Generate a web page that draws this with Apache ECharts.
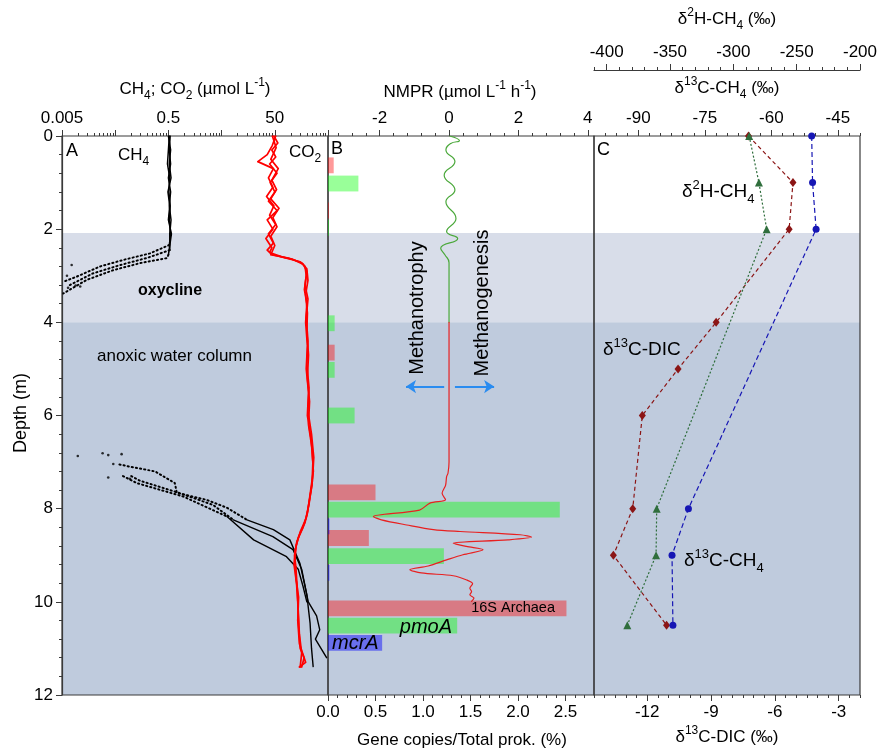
<!DOCTYPE html>
<html><head><meta charset="utf-8">
<script src="https://cdn.jsdelivr.net/npm/echarts@6/dist/echarts.min.js"></script>
<style>html,body{margin:0;padding:0;background:#fff}#c{width:878px;height:750px}</style>
</head><body><div id="c"></div>
<script>
// ---------------- DATA ----------------
// depth zones (m)
const oxyclineTop = 2.08, anoxicTop = 4.0, maxDepth = 12;

// Panel A tick values (µmol L-1)
const concMajorTicks = [0.005, 0.05, 0.5, 5, 50, 500];
const concLabels = [0.005, 0.5, 50];

// CH4 casts [depth, µmol/L]
const ch4SurfA = [[0,0.52],[0.3,0.50],[0.6,0.48],[0.9,0.53],[1.2,0.51],[1.5,0.54],[1.8,0.52],[2.1,0.55],[2.34,0.52]];
const ch4SurfB = [[0,0.54],[0.3,0.52],[0.6,0.55],[0.9,0.50],[1.2,0.55],[1.5,0.52],[1.8,0.56],[2.1,0.53],[2.45,0.53]];
const ch4SurfC = [[0,0.50],[0.3,0.55],[0.6,0.52],[0.9,0.56],[1.2,0.49],[1.5,0.53],[1.8,0.50],[2.1,0.57],[2.55,0.50]];
const ch4OxyA = [[2.34,0.52],[2.52,0.225],[2.66,0.071],[2.8,0.026],[3.02,0.0094],[3.13,0.0053]];
const ch4OxyB = [[2.45,0.53],[2.62,0.195],[2.77,0.062],[2.95,0.019],[3.2,0.007]];
const ch4OxyC = [[2.55,0.50],[2.62,0.47],[2.73,0.146],[2.88,0.046],[3.09,0.0145],[3.38,0.0053]];
const ch4OxyPts = [[2.77,0.0076],[3.23,0.011],[3.21,0.009],[3.26,0.0065],[3.0,0.0062]];
const ch4DeepA = [[7.05,0.06],[7.1,0.095],[7.2,0.28],[7.45,0.66],[7.66,0.72],[7.81,2.6],[7.98,6.3],[8.24,15],[8.45,47],[8.67,96],[9.17,148],[9.67,185],[10.0,213],[10.3,305],[10.6,350],[10.8,290],[11.2,470]];
const ch4DeepB = [[7.3,0.1],[7.4,0.146],[7.67,0.83],[7.92,3.45],[8.24,8.3],[8.6,46],[8.88,110],[9.3,160],[9.85,200],[10.45,230],[11.0,245],[11.39,263]];
const ch4DeepC = [[7.3,0.07],[7.45,0.127],[7.74,0.95],[8.17,6.3],[8.67,20],[9.03,83],[9.3,138],[9.67,170],[10.0,200]];
const ch4DeepPts = [[6.87,0.0099],[6.81,0.029],[6.85,0.037],[6.83,0.066],[7.04,0.046],[7.33,0.037],[7.36,0.095]];

// CO2 casts [depth, µmol/L]
const co2A = [[0,48],[0.15,57],[0.3,44],[0.45,52],[0.6,40],[0.8,55],[1.0,41],[1.2,50],[1.4,38],[1.6,55],[1.8,36],[2.0,46],[2.2,34],[2.4,44],[2.5,40],[2.6,70],[2.7,150],[2.8,185],[3.0,195],[3.3,180],[3.6,200],[4.0,190],[4.5,205],[5.0,195],[5.5,215],[6.0,205],[6.5,240],[7.0,260],[7.5,250],[8.0,210],[8.3,185],[8.6,140],[8.9,120],[9.2,115],[9.6,128],[10.0,135],[10.5,140],[11.0,150],[11.2,178],[11.4,160]];
const co2B = [[0,52],[0.2,45],[0.4,36],[0.55,24],[0.7,47],[0.9,38],[1.1,46],[1.3,35],[1.5,48],[1.7,40],[1.9,52],[2.1,38],[2.3,47],[2.45,36],[2.55,45],[2.65,110],[2.75,170],[2.9,200],[3.2,185],[3.5,210],[3.9,195],[4.4,210],[4.9,200],[5.4,220],[5.9,210],[6.4,245],[6.9,270],[7.4,255],[7.9,220],[8.2,195],[8.5,150],[8.8,125],[9.1,120],[9.5,125],[9.9,140],[10.4,135],[10.9,145],[11.3,190],[11.4,145]];
const co2C = [[0,45],[0.25,53],[0.5,42],[0.7,58],[0.95,44],[1.15,54],[1.35,42],[1.55,60],[1.75,46],[1.95,55],[2.15,42],[2.35,50],[2.55,42],[2.62,90],[2.72,160],[2.85,200],[3.1,210],[3.4,190],[3.8,205],[4.2,200],[4.7,215],[5.2,205],[5.7,225],[6.2,215],[6.7,250],[7.2,265],[7.7,230],[8.1,205],[8.4,170],[8.7,130],[9.0,118],[9.3,125],[9.7,132],[10.2,138],[10.7,145],[11.1,160],[11.4,150]];

// Panel B
const nmprTicks = [-2, 0, 2, 4];
const geneTicks = [0, 0.5, 1, 1.5, 2, 2.5];
// NMPR [depth, µmol L-1 h-1]
const nmprOxic = [[0.0,0.02],[0.1,0.3],[0.16,0.05],[0.3,-0.09],[0.55,0.17],[0.84,-0.14],[1.16,0.17],[1.41,-0.09],[1.77,0.2],[2.05,-0.07],[2.2,0.25],[2.41,-0.24],[2.55,-0.12],[2.72,0],[4.0,0]];
const nmprAnoxic = [[4.0,0],[7.0,0],[7.24,-0.03],[7.31,-0.07],[7.5,-0.1],[7.67,-0.2],[7.81,-0.1],[7.88,-0.55],[8.03,-0.85],[8.17,-2.18],[8.24,-1.95],[8.35,-1.22],[8.45,-0.45],[8.49,0.32],[8.56,2.05],[8.61,2.38],[8.67,1.7],[8.74,0.12],[8.81,0.5],[8.88,0.98],[8.99,0.4],[9.1,-0.07],[9.23,-0.6],[9.31,-1.13],[9.38,-0.8],[9.44,0.12],[9.53,0.51],[9.61,0.68],[9.71,0.6],[9.78,0.65],[9.85,0.6],[9.92,0.72],[9.99,0.65]];
// gene copies / total prokaryotes (%)
const archaeaDepth = [0.63, 1.60, 4.65, 7.65, 8.63, 10.14];
const archaeaPct   = [0.06, 0.01, 0.07, 0.50, 0.43, 2.51];
const pmoADepth = [1.02, 1.97, 4.02, 5.02, 6.0, 8.02, 9.02, 10.51];
const pmoAPct   = [0.32, 0.005, 0.07, 0.07, 0.28, 2.44, 1.22, 1.36];
const mcrADepth = [8.38, 9.38, 10.88];
const mcrAPct   = [0.015, 0.015, 0.57];
// arrows (NMPR units, depth)
const arrowLeft = [[-0.14, 5.38], [-1.24, 5.38]];
const arrowRight = [[0.17, 5.38], [1.30, 5.38]];

// Panel C
const dicTicks = [-12, -9, -6, -3];
const c13Ticks = [-90, -75, -60, -45];
const d2hTicks = [-400, -350, -300, -250, -200];
const dicDepth = [0, 1, 2, 4, 5, 6, 8, 9, 10.5];
const dicVal   = [-7.24, -5.15, -5.33, -8.76, -10.55, -12.23, -12.68, -13.59, -11.09];
const ch4IsoDepth = [0, 1, 2, 8, 9, 10.5];
const d2hVal = [-287.5, -279.8, -273.7, -360.5, -361.0, -383.7];
const c13Val = [-50.9, -50.7, -49.9, -78.7, -82.4, -82.2];

// ---------------- STYLE / HELPERS ----------------
const FONT = '"Liberation Sans", Arial, Helvetica, sans-serif';
const AX = '#3a3a3a';
const BAND_COLORS = ['#d8dde9', '#bfcbdd'];
const BAR_H = 0.34;
const r6 = v => +Number(v).toPrecision(6);
const fmtNum = v => String(parseFloat(Number(v).toPrecision(4)));

function range(a, b, step, exclude) {
  const out = [];
  const n = Math.round((b - a) / step);
  for (let i = 0; i <= n; i++) {
    const v = r6(a + i * step);
    if (!exclude || !exclude.some(e => Math.abs(e - v) < 1e-9)) out.push(v);
  }
  return out;
}
const concMinor = [];
[0.005, 0.05, 0.5, 5, 50].forEach(d => { for (let k = 2; k <= 9; k++) concMinor.push(r6(d * k)); });
const nmprMinor = range(-3.2, 4.0, 0.4, nmprTicks);
const geneMinor = range(0.1, 2.7, 0.1, geneTicks);
const c13Minor = range(-97.5, -40, 2.5, c13Ticks);
const d2hMinor = range(-410, -200, 10, d2hTicks);
const dicMinor = range(-14.5, -2, 0.5, dicTicks);

function xAx(grid, type, min, max, pos, ticks, labels, tickLen, offset, fmt, showLine) {
  return {
    gridIndex: grid, type: type, min: min, max: max, position: pos, offset: offset || 0,
    axisLine: {show: !!showLine, onZero: false, lineStyle: {color: AX, width: 1.2}},
    axisTick: {show: true, inside: false, length: tickLen, customValues: ticks, lineStyle: {color: AX, width: 1}},
    axisLabel: labels ? {show: true, customValues: labels, formatter: fmt, fontSize: 17, color: '#000', fontFamily: FONT, margin: 9} : {show: false},
    splitLine: {show: false}, minorTick: {show: false}, minorSplitLine: {show: false}
  };
}
const flip = arr => arr.map(p => [p[1], p[0]]);

function lineS(data, xi, yi, color, width, type, extra) {
  return Object.assign({
    type: 'line', xAxisIndex: xi, yAxisIndex: yi, data: flip(data),
    showSymbol: false, symbol: 'none', silent: true, animation: false, z: 3,
    lineStyle: {color: color, width: width, type: type || 'solid', cap: 'round', join: 'round'}
  }, extra || {});
}
function ptsS(data, xi, yi) {
  return {type: 'scatter', xAxisIndex: xi, yAxisIndex: yi, data: flip(data), symbol: 'circle', symbolSize: 2.6,
    itemStyle: {color: '#000'}, silent: true, animation: false, z: 3};
}
function bgS(xi, yi, xref) {
  const bands = [[oxyclineTop, anoxicTop], [anoxicTop, maxDepth]];
  return {
    type: 'custom', xAxisIndex: xi, yAxisIndex: yi, z: -5, silent: true, animation: false,
    data: bands.map(b => [xref, b[0], b[1]]),
    renderItem: function (params, api) {
      const cs = params.coordSys;
      const y0 = api.coord([xref, api.value(1)])[1];
      const y1 = api.coord([xref, api.value(2)])[1];
      return {type: 'rect', shape: {x: cs.x, y: y0, width: cs.width, height: y1 - y0},
        style: {fill: BAND_COLORS[params.dataIndex]}};
    }
  };
}
function barS(depths, vals, color) {
  return {
    type: 'custom', xAxisIndex: 4, yAxisIndex: 1, z: 3, silent: true, animation: false,
    data: depths.map((d, i) => [vals[i], d]),
    renderItem: function (params, api) {
      const p0 = api.coord([0, api.value(1) - BAR_H / 2]);
      const p1 = api.coord([api.value(0), api.value(1) + BAR_H / 2]);
      return {type: 'rect', shape: {x: p0[0], y: p0[1], width: Math.max(p1[0] - p0[0], 1), height: p1[1] - p0[1]},
        style: {fill: color}};
    }
  };
}
function isoS(depths, vals, xi, color, symbol, size, dash) {
  return {
    type: 'line', xAxisIndex: xi, yAxisIndex: 2, data: depths.map((d, i) => [vals[i], d]),
    symbol: symbol, symbolSize: size, showSymbol: true, silent: true, animation: false, z: 4,
    itemStyle: {color: color}, lineStyle: {color: color, width: 1.2, type: dash}
  };
}
function richStyle(fs) {
  const s = Math.round(fs * 0.68);
  return {
    b: {fontSize: s, fontFamily: FONT, fill: '#000', verticalAlign: 'bottom', lineHeight: s},
    p: {fontSize: s, fontFamily: FONT, fill: '#000', verticalAlign: 'top', lineHeight: s}
  };
}
function txt(x, y, text, fs, opt) {
  opt = opt || {};
  return {
    type: 'text', x: x, y: y, rotation: opt.rot || 0, z: 100, silent: true,
    style: {
      text: text, fontSize: fs, fontFamily: FONT, fill: '#000',
      fontWeight: opt.bold ? 'bold' : 'normal', fontStyle: opt.italic ? 'italic' : 'normal',
      align: opt.align || 'left', verticalAlign: 'middle', lineHeight: fs + 8, rich: richStyle(fs)
    }
  };
}

// ---------------- CHART ----------------
const chart = echarts.init(document.getElementById('c'), null, {renderer: 'canvas'});
const gridBase = {top: 136, height: 559, width: 266, show: true, borderColor: AX, borderWidth: 1.2,
  backgroundColor: 'transparent', containLabel: false, outerBoundsMode: 'none'};

const DEEP_SPLIT = 8.25;
const series = [
  bgS(0, 0, 1), bgS(2, 1, 0), bgS(6, 2, -70),
  // CH4 profiles
  lineS(ch4SurfA, 0, 0, '#000', 1.5), lineS(ch4SurfB, 0, 0, '#000', 1.5), lineS(ch4SurfC, 0, 0, '#000', 1.5),
  lineS(ch4OxyA, 0, 0, '#000', 2, [1.2, 3]), lineS(ch4OxyB, 0, 0, '#000', 2, [1.2, 3]), lineS(ch4OxyC, 0, 0, '#000', 2, [1.2, 3]),
  ptsS(ch4OxyPts, 0, 0), ptsS(ch4DeepPts, 0, 0),
  lineS(ch4DeepA.filter(p => p[0] <= DEEP_SPLIT), 0, 0, '#000', 2, [1.2, 3]),
  lineS(ch4DeepB.filter(p => p[0] <= DEEP_SPLIT), 0, 0, '#000', 2, [1.2, 3]),
  lineS(ch4DeepC.filter(p => p[0] <= DEEP_SPLIT), 0, 0, '#000', 2, [1.2, 3]),
  lineS(ch4DeepA.filter(p => p[0] >= 8.2), 0, 0, '#000', 1.4),
  lineS(ch4DeepB.filter(p => p[0] >= 8.2), 0, 0, '#000', 1.4),
  lineS(ch4DeepC.filter(p => p[0] >= 8.1), 0, 0, '#000', 1.4),
  // CO2 profiles
  lineS(co2A, 0, 0, '#ff0000', 1.7), lineS(co2B, 0, 0, '#ff0000', 1.7), lineS(co2C, 0, 0, '#ff0000', 1.7),
  // Panel B bars
  barS(archaeaDepth, archaeaPct, 'rgba(255,0,0,0.4)'),
  barS(pmoADepth, pmoAPct, 'rgba(0,255,0,0.4)'),
  barS(mcrADepth, mcrAPct, 'rgba(0,0,255,0.45)'),
  // NMPR
  lineS(nmprOxic, 2, 1, '#4aa83a', 1.2, 'solid', {smooth: 0.5, z: 5}),
  lineS(nmprAnoxic, 2, 1, '#e82020', 1.2, 'solid', {smooth: 0.3, z: 5}),
  {type: 'lines', coordinateSystem: 'cartesian2d', xAxisIndex: 2, yAxisIndex: 1, silent: true, animation: false, z: 5,
    symbol: ['none', 'arrow'], symbolSize: 10,
    lineStyle: {color: '#2a8cf0', width: 2, curveness: 0, opacity: 1},
    data: [{coords: arrowLeft}, {coords: arrowRight}]},
  // Panel C isotopes
  isoS(dicDepth, dicVal, 10, '#8b1515', 'diamond', [7, 9], [4, 3]),
  isoS(ch4IsoDepth, d2hVal, 8, '#2f6e3c', 'triangle', 8, [2, 2]),
  isoS(ch4IsoDepth, c13Val, 6, '#1616b4', 'circle', 7, [5, 3])
];

const option = {
  animation: false,
  backgroundColor: '#fff',
  textStyle: {fontFamily: FONT},
  grid: [
    Object.assign({}, gridBase, {left: 62}),
    Object.assign({}, gridBase, {left: 328}),
    Object.assign({}, gridBase, {left: 594})
  ],
  xAxis: [
    xAx(0, 'log', 0.004999, 500.001, 'top', concMajorTicks, concLabels, 6, 0, fmtNum),
    xAx(0, 'log', 0.004999, 500.001, 'top', concMinor, null, 3),
    xAx(1, 'value', -3.49, 4.18, 'top', nmprTicks, nmprTicks, 6, 0, fmtNum),
    xAx(1, 'value', -3.49, 4.18, 'top', nmprMinor, null, 3),
    xAx(1, 'value', 0, 2.8, 'bottom', geneTicks, geneTicks, 6, 0, v => Number(v).toFixed(1)),
    xAx(1, 'value', 0, 2.8, 'bottom', geneMinor, null, 3),
    xAx(2, 'value', -100, -40, 'top', c13Ticks, c13Ticks, 6, 0, fmtNum),
    xAx(2, 'value', -100, -40, 'top', c13Minor, null, 3),
    xAx(2, 'value', -410, -200, 'top', d2hTicks, d2hTicks, 6, 66, fmtNum, true),
    xAx(2, 'value', -410, -200, 'top', d2hMinor, null, 3, 66),
    xAx(2, 'value', -14.5, -2, 'bottom', dicTicks, dicTicks, 6, 0, fmtNum),
    xAx(2, 'value', -14.5, -2, 'bottom', dicMinor, null, 3)
  ],
  yAxis: [0, 1, 2].map(i => ({
    gridIndex: i, type: 'value', min: 0, max: maxDepth, interval: 2, inverse: true,
    axisLine: {show: i === 0, onZero: false, lineStyle: {color: AX, width: 1.2}},
    axisTick: {show: i === 0, length: 6, lineStyle: {color: AX}},
    minorTick: {show: i === 0, splitNumber: 5, length: 3, lineStyle: {color: AX}},
    axisLabel: {show: i === 0, fontSize: 17, color: '#000', fontFamily: FONT, margin: 9},
    splitLine: {show: false}, minorSplitLine: {show: false}
  })),
  series: series,
  graphic: [
    // axis titles
    txt(195, 89, 'CH{b|4}; CO{b|2} (µmol L{p|-1})', 17, {align: 'center'}),
    txt(460, 92, 'NMPR (µmol L{p|-1} h{p|-1})', 17, {align: 'center'}),
    txt(727, 88, 'δ{p|13}C-CH{b|4} (‰)', 17, {align: 'center'}),
    txt(727, 19, 'δ{p|2}H-CH{b|4} (‰)', 17, {align: 'center'}),
    txt(462, 740, 'Gene copies/Total prok. (%)', 17, {align: 'center'}),
    txt(727, 737, 'δ{p|13}C-DIC (‰)', 17, {align: 'center'}),
    txt(21, 413, 'Depth (m)', 18, {align: 'center', rot: Math.PI / 2}),
    // panel annotations
    txt(66, 151, 'A', 18),
    txt(118, 155, 'CH{b|4}', 17),
    txt(289, 152, 'CO{b|2}', 17),
    txt(331, 149, 'B', 18),
    txt(597, 150, 'C', 18),
    txt(138, 291, 'oxycline', 16, {bold: true}),
    txt(97, 356, 'anoxic water column', 17),
    txt(682, 192, 'δ{p|2}H-CH{b|4}', 19),
    txt(603, 350, 'δ{p|13}C-DIC', 19),
    txt(684, 561, 'δ{p|13}C-CH{b|4}', 19),
    txt(555, 608, '16S Archaea', 14.5, {align: 'right'}),
    txt(452, 627, 'pmoA', 20, {align: 'right', italic: true}),
    txt(332, 643, 'mcrA', 20, {italic: true}),
    txt(417, 308, 'Methanotrophy', 20, {align: 'center', rot: Math.PI / 2}),
    txt(482, 303, 'Methanogenesis', 20, {align: 'center', rot: Math.PI / 2})
  ]
};
chart.setOption(option);
</script></body></html>
